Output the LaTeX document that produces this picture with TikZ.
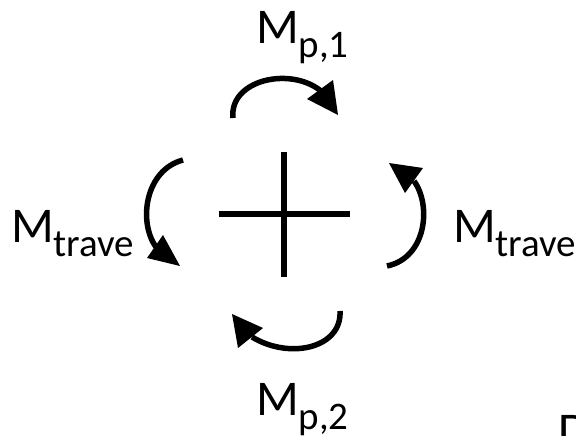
\documentclass[tikz,border=0pt]{standalone}
\usepackage{fontspec}
\setmainfont{Carlito}
\newcommand\MyLab[1]{M{\fontsize{39}{39}\selectfont\raisebox{-14pt}{#1}}}
\begin{document}
\begin{tikzpicture}[x=1pt,y=-1pt,
  bar/.style={line width=6pt},
  shaft/.style={line width=5.5pt},
  head/.style={fill=black},
  lab/.style={anchor=base west,inner sep=0pt,outer sep=0pt,font=\fontsize{50}{50}\selectfont}]
\useasboundingbox (0,0) rectangle (576,436);
\clip (0,0) rectangle (576,436);
% cross
\draw[bar] (219,214) -- (350,214);
\draw[bar] (284,152) -- (284,277);
% top arc
\draw[shaft] (233,118) .. controls (229,80) and (290,66) .. (321,91);
\fill[head] (338,115) -- (307,99) -- (333,80) -- cycle;
% left arc
\draw[shaft] (183,160) .. controls (145,170) and (138,222) .. (156,247);
\fill[head] (180,266) -- (147,258) -- (163,235) -- cycle;
% right arc
\draw[shaft] (387,266) .. controls (426,258) and (432,206) .. (414,181);
\fill[head] (389,163) -- (423,168) -- (405,193) -- cycle;
% bottom arc
\draw[shaft] (340,311) .. controls (342,348) and (290,360) .. (252,337);
\fill[head] (232,314) -- (238,348) -- (263,328) -- cycle;
% labels
\node[lab] (mp1) at (256,44) {\MyLab{p,1}};
\node[lab] (mtl) at (11,242) {\MyLab{trave}};
\node[lab] (mtr) at (453,242) {\MyLab{trave}};
\node[lab] (mp2) at (256,415) {\MyLab{p,2}};
\node[lab] (dd) at (558,447) {D};
\end{tikzpicture}
\end{document}
